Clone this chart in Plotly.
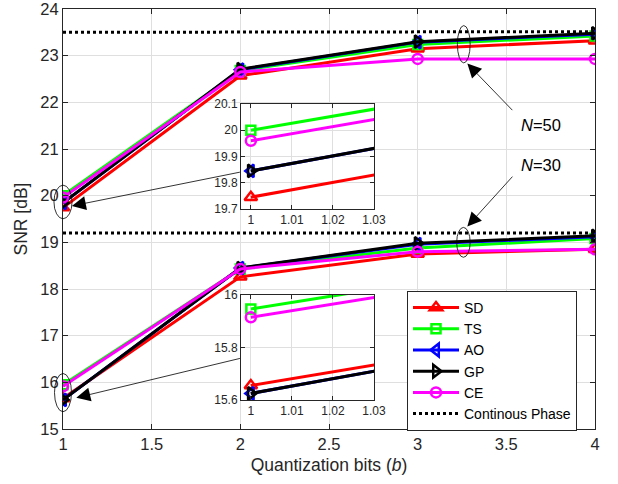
import plotly.graph_objects as go

# ---------------- data ----------------
bits = [1, 2, 3, 4]

sd_50 = [19.745, 22.57, 23.15, 23.32]
ts_50 = [20.00, 22.68, 23.24, 23.42]
ao_50 = [19.845, 22.70, 23.29, 23.46]
gp_50 = [19.845, 22.71, 23.30, 23.48]
ce_50 = [19.96, 22.65, 22.93, 22.93]
cont_50 = [23.50, 23.51, 23.51, 23.51]

sd_30 = [15.655, 18.26, 18.75, 18.85]
ts_30 = [15.947, 18.43, 18.88, 19.08]
ao_30 = [15.625, 18.45, 18.96, 19.12]
gp_30 = [15.625, 18.45, 18.98, 19.14]
ce_30 = [15.915, 18.43, 18.80, 18.85]
cont_30 = [19.20, 19.20, 19.20, 19.20]

main_xticks = [1, 1.5, 2, 2.5, 3, 3.5, 4]
main_yticks = [15, 16, 17, 18, 19, 20, 21, 22, 23, 24]
inset_xticks = [1, 1.01, 1.02, 1.03]
inset_xlabels = ["1", "1.01", "1.02", "1.03"]
inset50_yticks = [19.7, 19.8, 19.9, 20.0, 20.1]
inset50_ylabels = ["19.7", "19.8", "19.9", "20", "20.1"]
inset30_yticks = [15.6, 15.8, 16.0]
inset30_ylabels = ["15.6", "15.8", "16"]

X_RANGE = [1, 4]
Y_RANGE = [15, 24]

# ---------------- styles ----------------
FONT = "Liberation Sans, Arial, Helvetica, sans-serif"
AX = "#262626"
GRID = "#dfdfdf"
LW = 3

series = [
    ("SD", sd_50, sd_30, "#ff0000", "triangle-up-open", 11),
    ("TS", ts_50, ts_30, "#00ff00", "square-open", 9),
    ("AO", ao_50, ao_30, "#0000ff", "triangle-left-open", 11),
    ("GP", gp_50, gp_30, "#000000", "triangle-right-open", 11),
    ("CE", ce_50, ce_30, "#ff00ff", "circle-open", 10),
]

fig = go.Figure()

for xa, ya in [("x", "y"), ("x2", "y2"), ("x3", "y3")]:
    for name, v50, v30, col, sym, ms in series:
        for k, vals in enumerate((v50, v30)):
            fig.add_trace(go.Scatter(
                x=bits, y=vals, mode="lines+markers", name=name,
                xaxis=xa, yaxis=ya,
                line=dict(color=col, width=LW),
                marker=dict(symbol=sym, size=ms, color=col,
                            line=dict(color=col, width=2.5)),
                showlegend=(xa == "x" and k == 0),
                legendgroup=name,
            ))
    if xa == "x":
        for k, vals in enumerate((cont_50, cont_30)):
            fig.add_trace(go.Scatter(
                x=bits, y=vals, mode="lines", name="Continous Phase",
                xaxis=xa, yaxis=ya,
                line=dict(color="black", width=3, dash="dot"),
                showlegend=(k == 0), legendgroup="cont",
            ))

# ---------------- geometry ----------------
W, H = 618, 484
ML, MR, MT, MB = 63, 23, 9, 55
PW = W - ML - MR
PH = H - MT - MB


def px_x(p):
    return (p - ML) / PW


def px_y(p):
    return (H - MB - p) / PH


def dx(v):
    return (v - X_RANGE[0]) / (X_RANGE[1] - X_RANGE[0])


def dy(v):
    return (v - Y_RANGE[0]) / (Y_RANGE[1] - Y_RANGE[0])


common = dict(showline=True, linecolor=AX, linewidth=1, mirror="ticks",
              ticks="inside", tickcolor=AX, showgrid=True, gridcolor=GRID,
              gridwidth=1, zeroline=False, automargin=False,
              ticklabeloverflow="allow")
main_tf = dict(family=FONT, color=AX, size=16.5)
inset_tf = dict(family=FONT, color=AX, size=12)

fig.update_layout(
    width=W, height=H,
    margin=dict(l=ML, r=MR, t=MT, b=MB, autoexpand=False),
    paper_bgcolor="white", plot_bgcolor="white",
    font=dict(family=FONT, color=AX),
    xaxis=dict(range=X_RANGE, tickvals=main_xticks,
               ticktext=[("%g" % t) for t in main_xticks], ticklen=5,
               title=dict(text="Quantization bits (<i>b</i>)", font=dict(size=17.5), standoff=6),
               tickfont=main_tf, **common),
    yaxis=dict(range=Y_RANGE, tickvals=main_yticks, ticklen=5,
               title=dict(text="SNR [dB]", font=dict(size=17.5), standoff=8),
               tickfont=main_tf, **common),
    xaxis2=dict(domain=[px_x(241), px_x(374)], anchor="y2", range=[0.9976, 1.03],
                tickvals=inset_xticks, ticktext=inset_xlabels, ticklen=4,
                tickfont=inset_tf, **common),
    yaxis2=dict(domain=[px_y(209), px_y(104)], anchor="x2", range=[19.7, 20.1],
                tickvals=inset50_yticks, ticktext=inset50_ylabels, ticklen=4,
                tickfont=inset_tf, **common),
    xaxis3=dict(domain=[px_x(241), px_x(374)], anchor="y3", range=[0.9976, 1.03],
                tickvals=inset_xticks, ticktext=inset_xlabels, ticklen=4,
                tickfont=inset_tf, **common),
    yaxis3=dict(domain=[px_y(400), px_y(295)], anchor="x3", range=[15.6, 16.0],
                tickvals=inset30_yticks, ticktext=inset30_ylabels, ticklen=4,
                tickfont=inset_tf, **common),
    legend=dict(x=px_x(407), y=px_y(291), xanchor="left", yanchor="top",
                bgcolor="white", bordercolor=AX, borderwidth=1,
                font=dict(family=FONT, size=14, color="black"),
                tracegroupgap=0, itemwidth=46),
    showlegend=True,
)

# white backgrounds for insets
for n in ("2", "3"):
    fig.add_shape(type="rect", xref="x%s domain" % n, yref="y%s domain" % n,
                  x0=0, x1=1, y0=0, y1=1, fillcolor="white",
                  line=dict(width=0), layer="below")

# ellipses (paper-referenced so they are not clipped at the axis edge)
ellipses = [
    (1.0, 19.865, 0.051, 0.36),
    (1.0, 15.78, 0.048, 0.41),
    (3.26, 23.245, 0.036, 0.40),
    (3.258, 19.0, 0.038, 0.32),
]
for cx, cy, rx, ry in ellipses:
    fig.add_shape(type="circle", xref="paper", yref="paper",
                  x0=dx(cx - rx), x1=dx(cx + rx), y0=dy(cy - ry), y1=dy(cy + ry),
                  line=dict(color="black", width=0.8), layer="above")

# arrows (tip, tail)
arrows = [
    ((1.05, 19.78), (2.006, 20.51)),
    ((1.075, 15.67), (2.006, 16.52)),
    ((3.28, 22.83), (3.542, 21.80)),
    ((3.28, 19.34), (3.542, 20.44)),
]
for (tx, ty), (ax_, ay_) in arrows:
    fig.add_annotation(x=tx, y=ty, ax=ax_, ay=ay_, xref="x", yref="y",
                       axref="x", ayref="y", text="", showarrow=True,
                       arrowhead=2, arrowsize=3.5, arrowwidth=0.8,
                       arrowcolor="black", standoff=0)

for txt, tx, ty in [("<i>N</i>=50", 3.695, 21.52), ("<i>N</i>=30", 3.695, 20.66)]:
    fig.add_annotation(x=tx, y=ty, xref="x", yref="y", text=txt, showarrow=False,
                       font=dict(family=FONT, size=16.5, color="black"))

fig.write_html("out.html", config={"displayModeBar": False},
               post_script="document.body.style.margin='0px';")
